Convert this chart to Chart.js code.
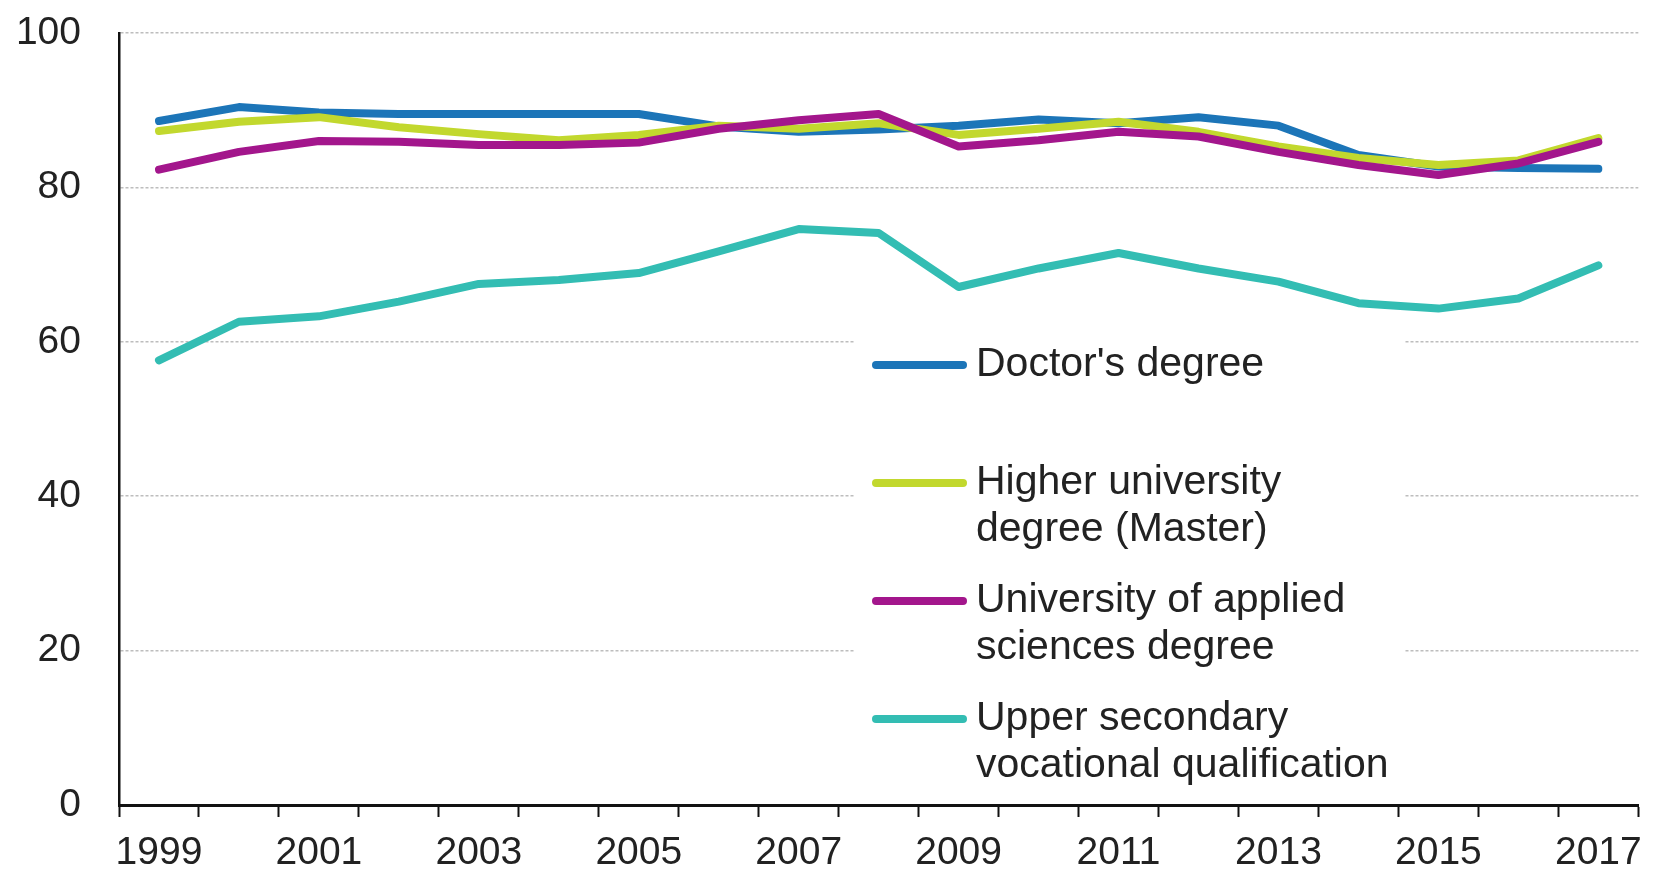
<!DOCTYPE html>
<html>
<head>
<meta charset="utf-8">
<script src="https://cdn.jsdelivr.net/npm/chart.js@4.4.1/dist/chart.umd.min.js"></script>
<style>
  html, body { margin: 0; padding: 0; background: #fff; }
  #wrap { width: 1655px; height: 872px; }
</style>
</head>
<body>
<div id="wrap"><canvas id="grafico" width="1655" height="872"></canvas></div>
<script>
// data
var years = ['1999', '2000', '2001', '2002', '2003', '2004', '2005', '2006', '2007', '2008',
             '2009', '2010', '2011', '2012', '2013', '2014', '2015', '2016', '2017'];
var xTickLabels = ['1999', '', '2001', '', '2003', '', '2005', '', '2007', '',
                   '2009', '', '2011', '', '2013', '', '2015', '', '2017'];
var yTicks = [0, 20, 40, 60, 80, 100];

var doctors = [88.6, 90.4, 89.7, 89.5, 89.5, 89.5, 89.5, 87.9, 87.2, 87.5,
               88.0, 88.8, 88.3, 89.1, 88.0, 84.2, 82.7, 82.5, 82.4];
var higherUni = [87.3, 88.5, 89.1, 87.8, 86.9, 86.1, 86.8, 88.0, 87.6, 88.3,
                 86.8, 87.6, 88.5, 87.2, 85.3, 83.8, 82.9, 83.5, 86.4];
var appliedSci = [82.3, 84.6, 86.0, 85.9, 85.5, 85.5, 85.8, 87.6, 88.7, 89.5,
                  85.3, 86.1, 87.2, 86.6, 84.6, 82.9, 81.6, 83.1, 85.9];
var vocational = [57.6, 62.6, 63.3, 65.2, 67.5, 68.0, 68.9, 71.7, 74.6, 74.1,
                  67.1, 69.5, 71.5, 69.5, 67.8, 65.0, 64.3, 65.6, 69.9];

var legendLines = [
  ["Doctor's degree"],
  ['Higher university', 'degree (Master)'],
  ['University of applied', 'sciences degree'],
  ['Upper secondary', 'vocational qualification']
];

var FONT = '"Liberation Sans", Arial, sans-serif';

function serie(i, dados, cor, ordem) {
  return {
    label: legendLines[i].join(' '),
    data: dados,
    borderColor: cor,
    backgroundColor: cor,
    borderWidth: 8,
    borderCapStyle: 'round',
    borderJoinStyle: 'round',
    pointRadius: 0,
    tension: 0,
    fill: false,
    order: ordem
  };
}

// legend drawn inside the plot, on a white patch over the grid
var legendaInterna = {
  id: 'legendaInterna',
  beforeDatasetsDraw: function (chart) {
    var a = chart.chartArea, ctx = chart.ctx;
    var top = a.top + 290;
    ctx.save();
    ctx.fillStyle = '#fff';
    ctx.fillRect(a.left + 736, top, 549, a.bottom - 4 - top);
    ctx.restore();
  },
  afterDatasetsDraw: function (chart) {
    var a = chart.chartArea, ctx = chart.ctx;
    var x0 = a.left + 757, y0 = a.top + 332;
    ctx.save();
    ctx.font = '41px ' + FONT;
    ctx.textBaseline = 'middle';
    ctx.textAlign = 'left';
    chart.data.datasets.forEach(function (ds, i) {
      var y = y0 + i * 118;
      ctx.strokeStyle = ds.borderColor;
      ctx.lineWidth = 8;
      ctx.lineCap = 'round';
      ctx.beginPath();
      ctx.moveTo(x0, y);
      ctx.lineTo(x0 + 87, y);
      ctx.stroke();
      ctx.fillStyle = '#222';
      legendLines[i].forEach(function (t, j) {
        ctx.fillText(t, x0 + 100, y + j * 47);
      });
    });
    ctx.restore();
  }
};

new Chart(document.getElementById('grafico'), {
  type: 'line',
  data: {
    labels: years,
    datasets: [
      serie(0, doctors, '#1c75b8', 3),
      serie(1, higherUni, '#c2d82e', 2),
      serie(2, appliedSci, '#a3168c', 1),
      serie(3, vocational, '#33bdb3', 0)
    ]
  },
  options: {
    responsive: false,
    animation: false,
    layout: { padding: { top: 33, right: 11, left: 0, bottom: 0 } },
    plugins: {
      legend: { display: false },
      tooltip: { enabled: false }
    },
    scales: {
      x: {
        offset: true,
        grid: {
          offset: true,
          drawOnChartArea: false,
          drawTicks: true,
          tickLength: 12,
          tickWidth: 2,
          tickColor: '#111'
        },
        border: { display: true, color: '#111', width: 3 },
        ticks: {
          autoSkip: false,
          maxRotation: 0,
          padding: 13,
          color: '#222',
          font: { family: FONT, size: 39 },
          callback: function (v, i) { return xTickLabels[i]; }
        },
        afterFit: function (s) { s.height = 67; }
      },
      y: {
        min: yTicks[0],
        max: yTicks[yTicks.length - 1],
        afterBuildTicks: function (s) {
          s.ticks = yTicks.map(function (v) { return { value: v }; });
        },
        grid: {
          drawTicks: false,
          color: '#bdbdbd',
          lineWidth: 1.5
        },
        border: { display: true, color: '#111', width: 2.5, dash: [3, 2] },
        ticks: {
          padding: 38,
          color: '#222',
          font: { family: FONT, size: 39 }
        },
        afterFit: function (s) {
          s.width = 119;
          s.paddingTop = 0;
          s.paddingBottom = 0;
        }
      }
    }
  },
  plugins: [legendaInterna]
});
</script>
</body>
</html>
